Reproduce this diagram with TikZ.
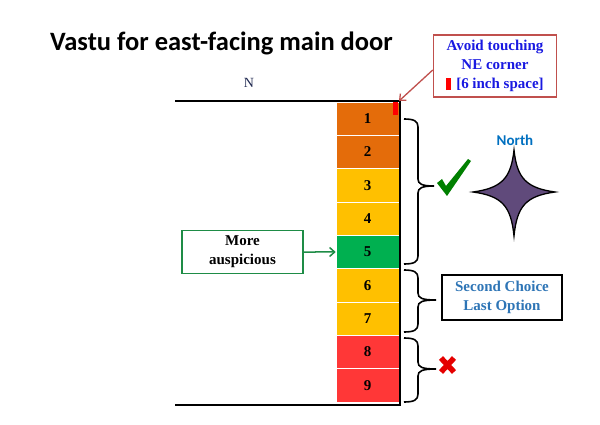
\documentclass[tikz,border=0pt]{standalone}
\usepackage{fontspec}
\setmainfont{Liberation Serif}
\newfontfamily\titlefont{Carlito}
\usetikzlibrary{arrows.meta}
\definecolor{cOrange}{RGB}{228,108,10}
\definecolor{cYellow}{RGB}{255,192,0}
\definecolor{cGreen}{RGB}{0,176,80}
\definecolor{cRed}{RGB}{255,55,55}
\definecolor{calloutRed}{RGB}{192,80,77}
\definecolor{textBlue}{RGB}{25,25,225}
\definecolor{skyBlue}{RGB}{46,117,182}
\definecolor{boxGreen}{RGB}{30,140,70}
\definecolor{starPurple}{RGB}{96,74,123}
\definecolor{checkGreen}{RGB}{0,128,0}
\definecolor{northBlue}{RGB}{0,112,192}
\definecolor{navyText}{RGB}{31,40,80}
\begin{document}
\begin{tikzpicture}[x=1pt,y=-1pt,
  cell/.style={minimum width=63pt, minimum height=33.33pt, inner sep=0pt, draw=white, line width=0.6pt,
    font=\bfseries\fontsize{15}{17}\selectfont},
  wall/.style={line width=1.6pt, black},
  labelbox/.style={draw, line width=1.5pt, align=center, inner sep=0pt, font=\bfseries\fontsize{15}{19}\selectfont},
  curly/.style={line width=1.6pt, black},
  arrowline/.style={line width=1.5pt, -{Straight Barb[length=5pt,width=9pt]}}
]
\useasboundingbox[fill=white] (0,0) rectangle (600,425);

% title
\node[anchor=base west, inner sep=0pt, font=\titlefont\bfseries\fontsize{26.5}{30}\selectfont] (title) at (50,51) {Vastu for east-facing main door};

% N label
\node[text=navyText, font=\fontsize{14}{16}\selectfont] (nlabel) at (249,83) {N};

% column cells
\foreach \i/\c in {1/cOrange,2/cOrange,3/cYellow,4/cYellow,5/cGreen,6/cYellow,7/cYellow,8/cRed,9/cRed}
  \node[cell, fill=\c] (c\i) at (367.5,{102+33.333*(\i-0.5)}) {\i};

% red mark in NE corner
\node[fill=red, minimum width=5pt, minimum height=13pt, inner sep=0pt, anchor=north east] (nemark) at (398,102) {};

% walls
\draw[wall] (175,101) -- (400,101) -- (400,405) -- (175,405);
\coordinate (ne) at (399,101);

% callout
\node[labelbox, draw=calloutRed, text=textBlue, minimum width=123pt, minimum height=62pt] (callout) at (495,66)
  {Avoid touching\\NE corner\\\textcolor{red}{\rule[-1.5pt]{5pt}{12pt}}\hspace{5pt}[6 inch space]};
\draw[arrowline, calloutRed, line width=1.3pt] ([yshift=-4pt]callout.west) -- (ne);

% more auspicious
\node[labelbox, draw=boxGreen, text=black, minimum width=121pt, minimum height=43pt] (aus) at (242.5,252) {More\\auspicious};
\draw[arrowline, boxGreen] (aus.east) -- (c5.west);

% braces
\draw[curly] (404,119) .. controls (414,119) and (418,121) .. (418,127) -- (418,179)
  .. controls (418,184) and (422,186) .. (434,186) .. controls (422,186) and (418,188) .. (418,193)
  -- (418,256) .. controls (418,262) and (414,264) .. (404,264);
\draw[curly] (404,270) .. controls (414,270) and (418,272) .. (418,278) -- (418,293)
  .. controls (418,298) and (422,300) .. (436,300) .. controls (422,300) and (418,302) .. (418,307)
  -- (418,324) .. controls (418,330) and (414,332) .. (404,332);
\draw[curly] (404,338) .. controls (414,338) and (418,340) .. (418,346) -- (418,362)
  .. controls (418,367) and (422,369) .. (436,369) .. controls (422,369) and (418,371) .. (418,376)
  -- (418,394) .. controls (418,400) and (414,402) .. (404,402);

% check mark
\fill[checkGreen] (437,183) -- (442,179) -- (446,186) -- (468,159) -- (471,161) -- (447,196) -- cycle;

% red cross
\draw[red!90!black, line width=5.5pt] (441,358) -- (454,372) (454,358) -- (441,372);

% second choice box
\node[labelbox, draw=black, text=skyBlue, minimum width=120pt, minimum height=45pt] (second) at (502,297.5) {Second Choice\\Last Option};

% star
\node[text=northBlue, font=\titlefont\bfseries\fontsize{15}{17}\selectfont] (north) at (515,140) {North};
\filldraw[fill=starPurple, draw=black, line width=1.3pt]
  (514,150) .. controls (517,178) and (526,188) .. (555,192)
  .. controls (526,196) and (517,206) .. (514,236)
  .. controls (511,206) and (502,196) .. (473,192)
  .. controls (502,188) and (511,178) .. cycle;
\end{tikzpicture}
\end{document}
